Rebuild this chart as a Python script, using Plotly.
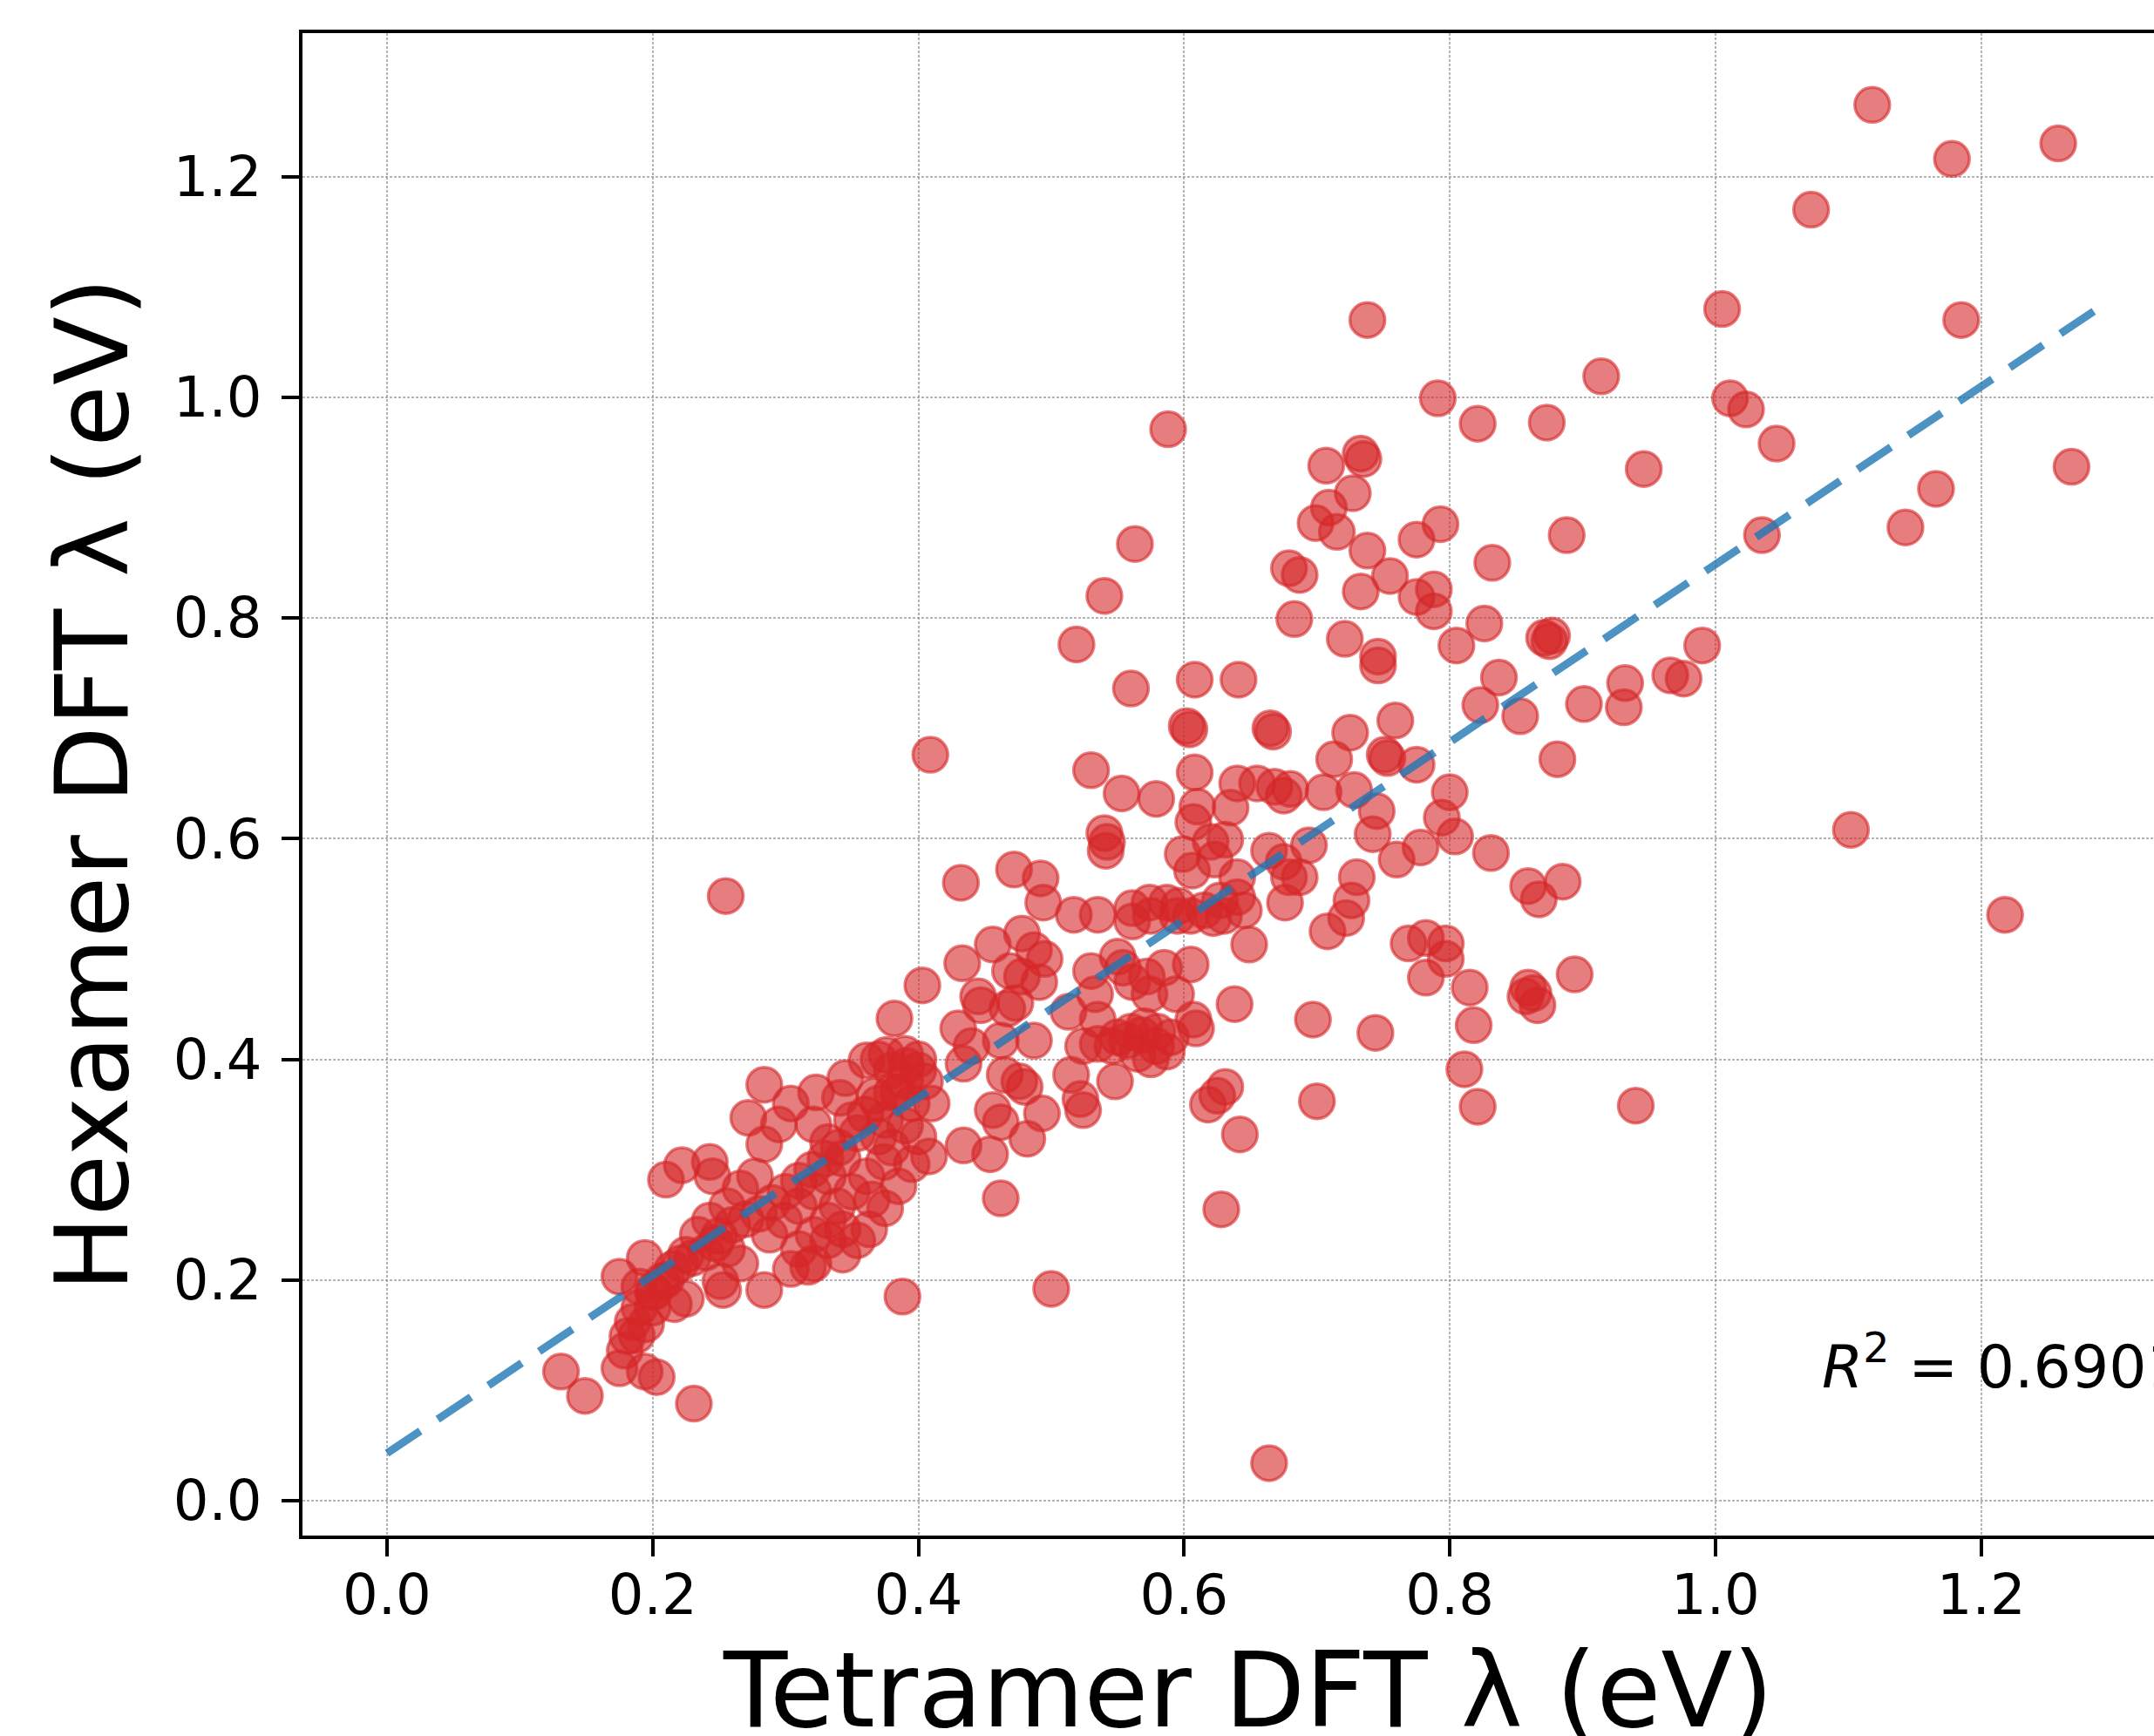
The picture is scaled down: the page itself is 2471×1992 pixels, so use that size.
import plotly.graph_objects as go

# Tetramer DFT lambda (x) vs Hexamer DFT lambda (y)
tetramer = [
    # upper right
    1.118, 1.178, 1.258, 1.072, 1.005, 1.185, 0.914, 1.011, 1.023, 1.046, 0.946, 1.268,
    1.166, 1.143, 1.035, 0.888, 0.990, 0.932, 0.931, 0.966, 0.976, 0.901, 1.102, 1.218,
    # x 0.6-0.9, y > 0.61
    0.738, 0.791, 0.821, 0.873, 0.588, 0.707, 0.733, 0.735, 0.727, 0.709, 0.699, 0.715,
    0.738, 0.775, 0.793, 0.832, 0.679, 0.687, 0.733, 0.755, 0.775, 0.788, 0.788, 0.683,
    0.721, 0.746, 0.746, 0.805, 0.826, 0.871, 0.875, 0.877, 0.608, 0.641, 0.837, 0.823,
    0.853, 0.881, 0.602, 0.604, 0.665, 0.667, 0.759, 0.725, 0.713, 0.751, 0.753, 0.775,
    0.608, 0.640, 0.655, 0.668, 0.675, 0.680, 0.635, 0.610, 0.705, 0.728, 0.745, 0.800,
    0.794,
    # x 0.4-0.68, y 0.53-0.87
    0.563, 0.540, 0.519, 0.560, 0.409, 0.530, 0.553, 0.579, 0.607, 0.540, 0.542, 0.541,
    0.620, 0.631, 0.599, 0.606, 0.623, 0.640, 0.664, 0.675, 0.679, 0.676, 0.432, 0.472,
    0.492, 0.494, 0.517, 0.535, 0.561, 0.574, 0.587, 0.596, 0.627, 0.640, 0.255,
    # x 0.4-0.66, y 0.18-0.53
    0.561, 0.605, 0.622, 0.649, 0.605, 0.638, 0.403, 0.433, 0.456, 0.478, 0.487, 0.495,
    0.469, 0.478, 0.491, 0.445, 0.447, 0.467, 0.473, 0.430, 0.440, 0.434, 0.462, 0.487,
    0.465, 0.476, 0.480, 0.530, 0.533, 0.550, 0.554, 0.561, 0.572, 0.574, 0.585, 0.594,
    0.513, 0.535, 0.524, 0.535, 0.546, 0.557, 0.568, 0.579, 0.587, 0.607, 0.609, 0.515,
    0.522, 0.524, 0.548, 0.493, 0.456, 0.462, 0.482, 0.434, 0.454, 0.408, 0.462, 0.625,
    0.631, 0.618, 0.642, 0.628, 0.500, 0.550, 0.560, 0.570, 0.580, 0.590, 0.565, 0.575,
    0.575, 0.595, 0.615, 0.630, 0.645,
    # x 0.1-0.41, y 0.08-0.44
    0.382, 0.284, 0.304, 0.323, 0.341, 0.272, 0.295, 0.284, 0.210, 0.222, 0.243, 0.266,
    0.277, 0.361, 0.376, 0.391, 0.345, 0.367, 0.321, 0.332, 0.343, 0.354, 0.361, 0.365,
    0.374, 0.363, 0.343, 0.317, 0.304, 0.284, 0.253, 0.225, 0.245, 0.256, 0.243, 0.234,
    0.247, 0.225, 0.221, 0.288, 0.299, 0.310, 0.321, 0.332, 0.310, 0.321, 0.332, 0.321,
    0.256, 0.266, 0.251, 0.175, 0.194, 0.190, 0.190, 0.185, 0.181, 0.179, 0.175, 0.194,
    0.203, 0.131, 0.149, 0.231, 0.388, 0.201, 0.207, 0.216, 0.343, 0.354, 0.332, 0.339,
    0.350, 0.200, 0.210, 0.215, 0.230, 0.240, 0.250, 0.260, 0.270, 0.280, 0.290, 0.300,
    0.310, 0.320, 0.330, 0.340, 0.350, 0.360, 0.370, 0.380, 0.390, 0.400, 0.195, 0.188,
    0.200, 0.370, 0.380, 0.390, 0.400, 0.385, 0.395, 0.405, 0.375, 0.390, 0.400, 0.370,
    0.380, 0.395, 0.410, 0.385, 0.375,
    # right middle
    0.831, 0.859, 0.867, 0.885, 0.894, 0.859, 0.863, 0.866, 0.857, 0.815, 0.818, 0.811,
    0.821, 0.940, 0.769, 0.782, 0.797, 0.797, 0.782, 0.744, 0.697, 0.700, 0.664, 0.687,
    0.694, 0.708, 0.722, 0.726, 0.730, 0.760, 0.778, 0.804, 0.742,
]

hexamer = [
    # upper right
    1.265, 1.216, 1.230, 1.170, 1.080, 1.070, 1.019, 0.999, 0.989, 0.958, 0.935, 0.937,
    0.917, 0.882, 0.875, 0.875, 0.775, 0.741, 0.719, 0.748, 0.745, 0.722, 0.608, 0.531,
    # x 0.6-0.9, y > 0.61
    1.070, 0.999, 0.976, 0.977, 0.971, 0.938, 0.949, 0.944, 0.913, 0.900, 0.886, 0.878,
    0.861, 0.871, 0.885, 0.850, 0.845, 0.839, 0.824, 0.838, 0.819, 0.826, 0.806, 0.799,
    0.781, 0.765, 0.757, 0.775, 0.795, 0.782, 0.779, 0.784, 0.744, 0.744, 0.746, 0.721,
    0.711, 0.672, 0.702, 0.699, 0.700, 0.697, 0.707, 0.696, 0.672, 0.676, 0.673, 0.667,
    0.660, 0.650, 0.650, 0.647, 0.639, 0.645, 0.628, 0.629, 0.642, 0.644, 0.625, 0.642,
    0.619,
    # x 0.4-0.68, y 0.53-0.87
    0.867, 0.820, 0.776, 0.736, 0.676, 0.662, 0.641, 0.636, 0.615, 0.605, 0.597, 0.589,
    0.597, 0.599, 0.586, 0.571, 0.581, 0.565, 0.589, 0.579, 0.565, 0.542, 0.560, 0.572,
    0.564, 0.542, 0.531, 0.531, 0.537, 0.542, 0.542, 0.539, 0.544, 0.547, 0.548,
    # x 0.4-0.66, y 0.18-0.53
    0.525, 0.530, 0.528, 0.504, 0.486, 0.450, 0.467, 0.487, 0.504, 0.514, 0.499, 0.491,
    0.480, 0.475, 0.470, 0.457, 0.449, 0.446, 0.451, 0.428, 0.412, 0.396, 0.417, 0.417,
    0.386, 0.380, 0.375, 0.480, 0.459, 0.493, 0.483, 0.470, 0.475, 0.459, 0.483, 0.459,
    0.443, 0.436, 0.412, 0.414, 0.412, 0.417, 0.422, 0.412, 0.407, 0.436, 0.428, 0.386,
    0.364, 0.354, 0.380, 0.351, 0.354, 0.343, 0.328, 0.322, 0.314, 0.312, 0.274, 0.367,
    0.375, 0.359, 0.332, 0.264, 0.192, 0.420, 0.425, 0.430, 0.425, 0.420, 0.405, 0.400,
    0.530, 0.530, 0.535, 0.530, 0.535,
    # x 0.1-0.41, y 0.08-0.44
    0.437, 0.377, 0.360, 0.370, 0.365, 0.347, 0.341, 0.323, 0.291, 0.304, 0.307, 0.283,
    0.294, 0.399, 0.404, 0.394, 0.383, 0.367, 0.341, 0.325, 0.310, 0.333, 0.294, 0.273,
    0.307, 0.246, 0.223, 0.212, 0.210, 0.191, 0.191, 0.183, 0.294, 0.267, 0.254, 0.241,
    0.233, 0.223, 0.215, 0.241, 0.254, 0.267, 0.280, 0.294, 0.228, 0.241, 0.254, 0.215,
    0.228, 0.215, 0.199, 0.203, 0.220, 0.194, 0.175, 0.162, 0.149, 0.136, 0.120, 0.117,
    0.112, 0.117, 0.095, 0.088, 0.185, 0.189, 0.199, 0.178, 0.246, 0.236, 0.236, 0.267,
    0.280, 0.190, 0.200, 0.210, 0.220, 0.225, 0.240, 0.250, 0.255, 0.260, 0.270, 0.280,
    0.290, 0.300, 0.310, 0.320, 0.345, 0.350, 0.360, 0.370, 0.380, 0.390, 0.160, 0.150,
    0.175, 0.400, 0.390, 0.405, 0.400, 0.370, 0.360, 0.380, 0.345, 0.340, 0.330, 0.330,
    0.320, 0.305, 0.360, 0.285, 0.265,
    # right middle
    0.587, 0.557, 0.545, 0.561, 0.477, 0.465, 0.460, 0.449, 0.457, 0.465, 0.431, 0.391,
    0.357, 0.358, 0.505, 0.510, 0.505, 0.491, 0.474, 0.424, 0.436, 0.362, 0.034, 0.565,
    0.594, 0.516, 0.528, 0.544, 0.565, 0.581, 0.592, 0.602, 0.604,
]

# Linear fit line endpoints
fit_x = [0.0, 1.296]
fit_y = [0.043, 1.087]

r2_text = "<i>R</i><sup>2</sup> = 0.6901"

x_ticks = [0.0, 0.2, 0.4, 0.6, 0.8, 1.0, 1.2]
x_tick_labels = ["0.0", "0.2", "0.4", "0.6", "0.8", "1.0", "1.2"]
y_ticks = [0.0, 0.2, 0.4, 0.6, 0.8, 1.0, 1.2]
y_tick_labels = ["0.0", "0.2", "0.4", "0.6", "0.8", "1.0", "1.2"]

x_title = "Tetramer DFT λ (eV)"
y_title = "Hexamer DFT λ (eV)"

FONT = "DejaVu Sans"

fig = go.Figure()
fig.add_trace(go.Scatter(
    x=tetramer, y=hexamer, mode="markers",
    marker=dict(size=40, color="rgba(214,39,40,0.6)",
                line=dict(color="rgba(214,39,40,0.6)", width=3.5)),
    hoverinfo="skip",
))
fig.add_trace(go.Scatter(
    x=fit_x, y=fit_y, mode="lines",
    line=dict(color="rgba(31,119,180,0.8)", width=9, dash="46px,24px"),
    hoverinfo="skip",
))

axis_common = dict(
    ticks="outside", ticklen=20, tickwidth=3.5, tickcolor="black",
    showline=True, linewidth=3.5, linecolor="black",
    showgrid=True, gridcolor="rgba(140,140,140,0.65)", gridwidth=1.5, griddash="3px,2px",
    zeroline=False, tickfont=dict(family=FONT, size=64, color="black"),
    tickmode="array",
)

# The axes extend past the right edge of the visible page (as in the original image)
FIG_W = 2530

fig.update_layout(
    width=FIG_W, height=1992,
    margin=dict(l=347, r=0, t=38, b=230, pad=0),
    showlegend=False,
    plot_bgcolor="white", paper_bgcolor="white",
    font=dict(family=FONT, color="black"),
    xaxis=dict(range=[-0.0636, 1.3688], tickvals=x_ticks, ticktext=x_tick_labels,
               mirror=True, ticklabelstandoff=-11, **axis_common),
    yaxis=dict(range=[-0.0316, 1.330], tickvals=y_ticks, ticktext=y_tick_labels,
               mirror=False, ticklabelstandoff=10, **axis_common),
    annotations=[
        dict(text=x_title, xref="paper", yref="paper", x=0.4966, y=-0.1032,
             xanchor="center", yanchor="middle", showarrow=False,
             font=dict(family=FONT, size=120, color="black")),
        dict(text=y_title, xref="paper", yref="paper", x=-0.1104, y=0.5,
             xanchor="center", yanchor="middle", textangle=-90, showarrow=False,
             font=dict(family=FONT, size=115, color="black")),
        dict(text=r2_text, xref="paper", yref="paper", x=0.7975, y=0.1154,
             xanchor="left", yanchor="middle", showarrow=False,
             font=dict(family=FONT, size=68, color="black")),
    ],
)

fig.write_html(
    "out.html",
    config={"displayModeBar": False},
    post_script=(
        "document.body.style.margin='0';"
        "document.body.style.overflow='hidden';"
        "document.documentElement.style.overflow='hidden';"
    ),
)
